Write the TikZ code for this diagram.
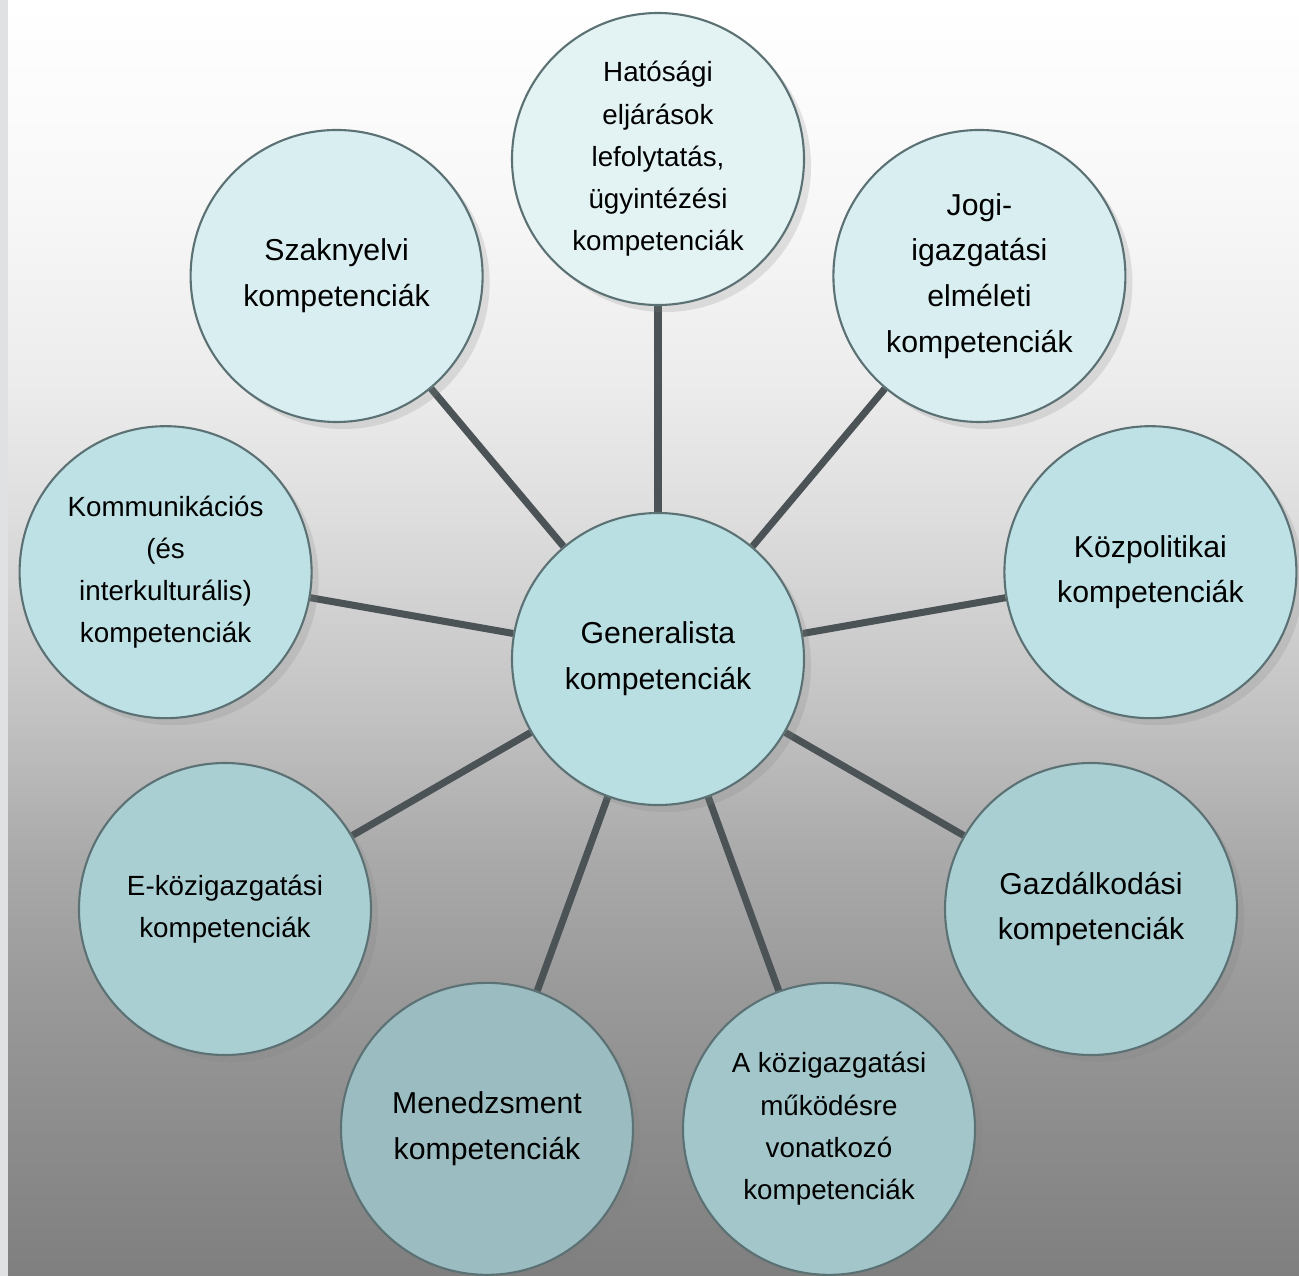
\documentclass[tikz,border=0pt]{standalone}
\usepackage{fontspec}
\setmainfont{Liberation Sans}
\usetikzlibrary{calc,shadows,backgrounds}

\definecolor{korvonal}{HTML}{5C7174}
\definecolor{vonal}{HTML}{4B5356}
\definecolor{csik}{HTML}{DFE1E3}
\definecolor{szin1}{HTML}{E3F3F4}
\definecolor{szin2}{HTML}{D8EEF0}
\definecolor{szin3}{HTML}{BEE1E5}
\definecolor{szin4}{HTML}{B9DFE3}
\definecolor{szin5}{HTML}{AACFD3}
\definecolor{szin6}{HTML}{A3C6CA}
\definecolor{hat1}{HTML}{7F7F7F}
\definecolor{hat2}{HTML}{999999}
\definecolor{hat3}{HTML}{AAAAAA}
\definecolor{hat4}{HTML}{C4C4C4}
\definecolor{hat5}{HTML}{E0E0E0}
\definecolor{hat6}{HTML}{ECECEC}
\definecolor{hat7}{HTML}{F8F8F8}

\pgfdeclareverticalshading{hatter}{100bp}{color(0bp)=(hat1); color(25bp)=(hat1);
  color(36bp)=(hat2); color(41.5bp)=(hat3); color(47.5bp)=(hat4); color(55.5bp)=(hat5);
  color(60bp)=(hat6); color(67.5bp)=(hat7); color(75bp)=(white); color(100bp)=(white)}

\begin{document}
\begin{tikzpicture}[
  kor/.style={circle, draw=korvonal, line width=0.6pt, minimum size=2.92cm, inner sep=0pt,
    align=center, font=\fontsize{8.6}{13}\selectfont,
    drop shadow={shadow xshift=2pt, shadow yshift=-2pt, opacity=0.2}},
  kiskor/.style={kor, font=\fontsize{7.9}{12}\selectfont},
  osszekoto/.style={draw=vonal, line width=2pt}]

\useasboundingbox (0,0) rectangle (12.99,-12.76);
\pgfmathsetmacro{\sugar}{5}
\coordinate (kp) at (6.58,-6.59);

\node[kor, fill=szin4] (gen) at (kp) {Generalista\\kompetenciák};

\node[kiskor, fill=szin1] (hat) at ($(kp)+(90:\sugar)$) {Hatósági\\eljárások\\lefolytatás,\\ügyintézési\\kompetenciák};
\node[kor, fill=szin2] (jogi) at ($(kp)+(50:\sugar)$) {Jogi-\\igazgatási\\elméleti\\kompetenciák};
\node[kor, fill=szin3] (kozpol) at ($(kp)+(10:\sugar)$) {Közpolitikai\\kompetenciák};
\node[kor, fill=szin5] (gazd) at ($(kp)+(-30:\sugar)$) {Gazdálkodási\\kompetenciák};
\node[kiskor, fill=szin6] (mukod) at ($(kp)+(-70:\sugar)$) {A közigazgatási\\működésre\\vonatkozó\\kompetenciák};
\node[kor, fill=szin6!95!black] (men) at ($(kp)+(-110:\sugar)$) {Menedzsment\\kompetenciák};
\node[kiskor, fill=szin5] (ekoz) at ($(kp)+(-150:\sugar)$) {E-közigazgatási\\kompetenciák};
\node[kiskor, fill=szin3] (komm) at ($(kp)+(170:\sugar)$) {Kommunikációs\\(és\\interkulturális)\\kompetenciák};
\node[kor, fill=szin2] (szak) at ($(kp)+(130:\sugar)$) {Szaknyelvi\\kompetenciák};

\begin{pgfonlayer}{background}
\shade[shading=hatter] (0,0) rectangle (12.99,-12.76);
\fill[csik] (0,0) rectangle (0.08,-12.76);
\foreach \n in {hat,jogi,kozpol,gazd,mukod,men,ekoz,komm,szak}
  \draw[osszekoto] (gen) -- (\n);
\end{pgfonlayer}

\end{tikzpicture}
\end{document}
